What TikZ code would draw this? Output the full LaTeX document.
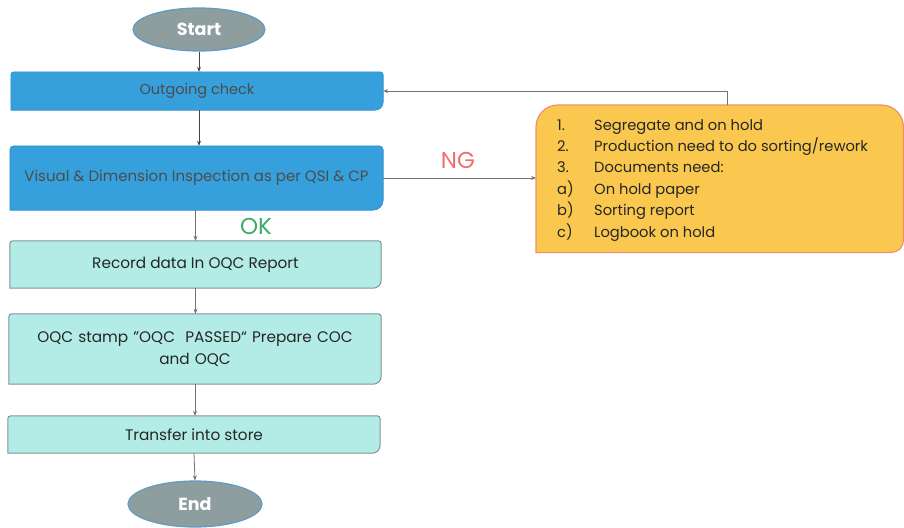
\documentclass[tikz,border=0pt]{standalone}
\usepackage{fontspec}
\setmainfont{Poppins}
\usetikzlibrary{shapes.geometric,arrows.meta,backgrounds}

\definecolor{stepblue}{HTML}{35A0DC}
\definecolor{stepblueline}{HTML}{2E8FC8}
\definecolor{stepcyan}{HTML}{B3ECE6}
\definecolor{stepcyanline}{HTML}{7F9694}
\definecolor{termfill}{HTML}{8E9E9E}
\definecolor{termline}{HTML}{5E9CC4}
\definecolor{notefill}{HTML}{FAC84E}
\definecolor{noteline}{HTML}{F0906A}
\definecolor{okgreen}{HTML}{3BAA6A}
\definecolor{ngred}{HTML}{F26D6D}
\definecolor{arrowgray}{HTML}{444444}

% rectangle with rounded top corners and a larger rounded bottom-right corner
\newcommand\diagbox[4]{%
  \path[#4] ([yshift=-#2]#1.north west) arc[start angle=180,end angle=90,radius=#2]
    -- ([xshift=-#2]#1.north east) arc[start angle=90,end angle=0,radius=#2]
    -- ([yshift=#3]#1.south east) arc[start angle=0,end angle=-90,radius=#3]
    -- (#1.south west) -- cycle;}

\tikzset{
  x=1pt,y=1pt,
  terminal/.style={ellipse,fill=termfill,draw=termline,line width=1.2pt,
    text=white,font=\fontsize{17.5}{20}\selectfont\bfseries,inner sep=0pt},
  bluestep/.style={rectangle,inner sep=0pt,text=black!70,
    font=\fontsize{14.5}{17}\selectfont},
  cyanstep/.style={rectangle,inner sep=0pt,text=black!85,align=center,
    font=\fontsize{15.3}{22}\selectfont},
  flow/.style={draw=arrowgray,line width=0.9pt,-{Stealth[length=5pt,width=4pt]}},
  thinflow/.style={draw=black!55,line width=0.8pt,-{Stealth[length=5pt,width=4pt]}},
  tag/.style={font=\fontsize{23}{26}\selectfont}
}

\begin{document}
\begin{tikzpicture}
\useasboundingbox (0,0) rectangle (904,-527);

\node[terminal,minimum width=132,minimum height=43] (start) at (199,-29.5) {Start};
\node[bluestep,minimum width=372,minimum height=38] (out) at (197,-91) {Outgoing check};
\node[bluestep,minimum width=373,minimum height=64,font=\fontsize{15}{18}\selectfont] (vis) at (196.5,-178) {Visual \& Dimension Inspection as per QSI \& CP};
\node[cyanstep,minimum width=371,minimum height=47] (rec) at (195.5,-264.5) {Record data In OQC Report};
\node[cyanstep,minimum width=372,minimum height=70,text width=355] (oqc) at (195,-349) {OQC stamp \symbol{34}OQC\ \ PASSED“ Prepare COC\\ and OQC};
\node[cyanstep,minimum width=372,minimum height=37] (xfer) at (194,-434.5) {Transfer into store};
\node[terminal,minimum width=134,minimum height=46] (end) at (195,-504) {End};

\node[rectangle,minimum width=367,minimum height=147,inner sep=0pt,anchor=north west] (note) at (536,-105) {};
\node[anchor=north west,inner sep=0pt,text=black!85,font=\fontsize{14.7}{21.4}\selectfont,align=left] (list) at (557,-119)
  {\makebox[37pt][l]{1.}Segregate and on hold\\
   \makebox[37pt][l]{2.}Production need to do sorting/rework\\
   \makebox[37pt][l]{3.}Documents need:\\
   \makebox[37pt][l]{a)}On hold paper\\
   \makebox[37pt][l]{b)}Sorting report\\
   \makebox[37pt][l]{c)}Logbook on hold};

\node[tag,text=okgreen] (ok) at (256,-226) {OK};
\node[tag,text=ngred] (ng) at (458,-160) {NG};

\begin{scope}[on background layer]
  \diagbox{out}{3pt}{8pt}{fill=stepblue,draw=stepblueline,line width=0.6pt}
  \diagbox{vis}{4pt}{10pt}{fill=stepblue,draw=stepblueline,line width=0.6pt}
  \diagbox{rec}{3pt}{8pt}{fill=stepcyan,draw=stepcyanline,line width=1pt}
  \diagbox{oqc}{3pt}{8pt}{fill=stepcyan,draw=stepcyanline,line width=1pt}
  \diagbox{xfer}{3pt}{8pt}{fill=stepcyan,draw=stepcyanline,line width=1pt}
  \diagbox{note}{22pt}{12pt}{fill=notefill,draw=noteline,line width=1.2pt}
\end{scope}

\draw[flow] (start.south) -- (start.south |- out.north);
\draw[flow] (start.south |- out.south) -- (start.south |- vis.north);
\draw[thinflow] (rec.north |- vis.south) -- (rec.north);
\draw[thinflow] (rec.south) -- (rec.south |- oqc.north);
\draw[thinflow] (oqc.south) -- (oqc.south |- xfer.north);
\draw[thinflow] (xfer.south) -- (end.north);
\draw[thinflow] (vis.east) -- (vis.east -| note.west);
\draw[thinflow] ([xshift=8pt]note.north) |- (out.east);
\end{tikzpicture}
\end{document}
